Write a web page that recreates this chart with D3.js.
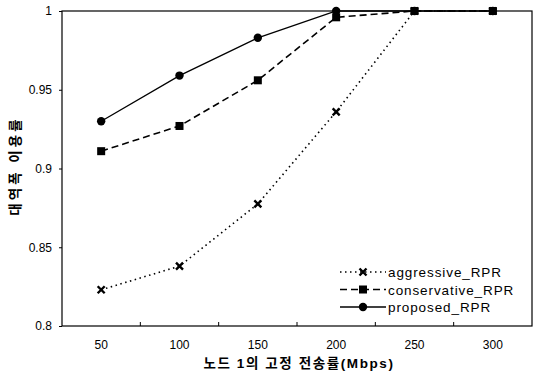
<!DOCTYPE html>
<html>
<head>
<meta charset="utf-8">
<script src="https://cdn.jsdelivr.net/npm/d3@7"></script>
<style>
  body { margin: 0; background: #fff; }
  svg text { font-family: "Liberation Sans", "Noto Sans CJK KR", Arial, sans-serif; fill: #000; }
</style>
</head>
<body>
<svg id="chart" width="541" height="378"></svg>
<script>
// categories on the x axis (Mbps)
const rates = ["50", "100", "150", "200", "250", "300"];
// bandwidth utilisation per scheme
const aggressive = [0.823, 0.838, 0.8775, 0.936, 1.0, 1.0];
const conservative = [0.911, 0.927, 0.956, 0.996, 1.0, 1.0];
const proposed = [0.930, 0.959, 0.983, 1.0, 1.0, 1.0];
const yTicks = [0.8, 0.85, 0.9, 0.95, 1];
const seriesNames = ["aggressive_RPR", "conservative_RPR", "proposed_RPR"];

const svg = d3.select("#chart");
const plotLeft = 62, plotRight = 532, plotTop = 11, plotBottom = 326;

const x = d3.scaleBand().domain(rates).range([plotLeft, plotRight]);
const y = d3.scaleLinear().domain([0.8, 1]).range([plotBottom, plotTop]);

// plot frame
svg.append("rect")
  .attr("x", plotLeft).attr("y", plotTop)
  .attr("width", plotRight - plotLeft).attr("height", plotBottom - plotTop)
  .attr("fill", "none").attr("stroke", "#000").attr("stroke-width", 1.2);

// y axis
const yAxis = svg.append("g")
  .attr("transform", "translate(" + plotLeft + ",0)")
  .call(d3.axisLeft(y).tickValues(yTicks).tickSize(3).tickPadding(7)
    .tickFormat(d => String(+d.toFixed(2))));
yAxis.select(".domain").remove();
yAxis.selectAll("text").style("font-size", "12px");

// x axis: labels at category centres, ticks at boundaries pointing inward
const xAxis = svg.append("g")
  .attr("transform", "translate(0," + plotBottom + ")")
  .call(d3.axisBottom(x).tickSize(0).tickPadding(14));
xAxis.select(".domain").remove();
xAxis.selectAll("text").style("font-size", "12px");

svg.append("g").selectAll("line")
  .data(rates.slice(1))
  .enter().append("line")
  .attr("x1", d => x(d)).attr("x2", d => x(d))
  .attr("y1", plotBottom).attr("y2", plotBottom - 4)
  .attr("stroke", "#000");

// axis titles
svg.append("text")
  .attr("x", 299).attr("y", 368)
  .attr("text-anchor", "middle")
  .style("font-size", "13.5px").style("font-weight", "bold").style("letter-spacing", "1.6px")
  .text("노드 1의 고정 전송률(Mbps)");

svg.append("text")
  .attr("transform", "translate(20,166) rotate(-90)")
  .attr("text-anchor", "middle")
  .style("font-size", "13.5px").style("font-weight", "bold").style("letter-spacing", "3px")
  .text("대역폭 이용률");

const line = d3.line()
  .x((d, i) => x(rates[i]) + x.bandwidth() / 2)
  .y(d => y(d));

const styles = [
  { data: aggressive, dash: "1.5,3.5", width: 1.6, marker: "x" },
  { data: conservative, dash: "7,4", width: 1.6, marker: "square" },
  { data: proposed, dash: null, width: 1.3, marker: "circle" }
];

function drawMarker(g, kind, cx, cy) {
  if (kind === "circle") {
    g.append("circle").attr("cx", cx).attr("cy", cy).attr("r", 4.2).attr("fill", "#000");
  } else if (kind === "square") {
    g.append("rect").attr("x", cx - 4).attr("y", cy - 4).attr("width", 8).attr("height", 8).attr("fill", "#000");
  } else {
    g.append("path")
      .attr("d", "M" + (cx - 3.5) + "," + (cy - 3.5) + "L" + (cx + 3.5) + "," + (cy + 3.5) +
                 "M" + (cx + 3.5) + "," + (cy - 3.5) + "L" + (cx - 3.5) + "," + (cy + 3.5))
      .attr("stroke", "#000").attr("stroke-width", 2.4);
  }
}

styles.forEach(s => {
  svg.append("path")
    .attr("d", line(s.data))
    .attr("fill", "none").attr("stroke", "#000")
    .attr("stroke-width", s.width)
    .attr("stroke-dasharray", s.dash);
  const g = svg.append("g");
  s.data.forEach((v, i) => drawMarker(g, s.marker, x(rates[i]) + x.bandwidth() / 2, y(v)));
});

// legend
const legend = svg.append("g");
seriesNames.forEach((name, i) => {
  const ly = 272 + i * 17.5;
  const s = styles[i];
  legend.append("line")
    .attr("x1", 340).attr("x2", 386).attr("y1", ly).attr("y2", ly)
    .attr("stroke", "#000").attr("stroke-width", s.width)
    .attr("stroke-dasharray", s.dash);
  drawMarker(legend, s.marker, 363, ly);
  legend.append("text")
    .attr("x", 388).attr("y", ly + 5)
    .style("font-size", "13.5px").style("letter-spacing", "0.9px")
    .text(name);
});
</script>
</body>
</html>
